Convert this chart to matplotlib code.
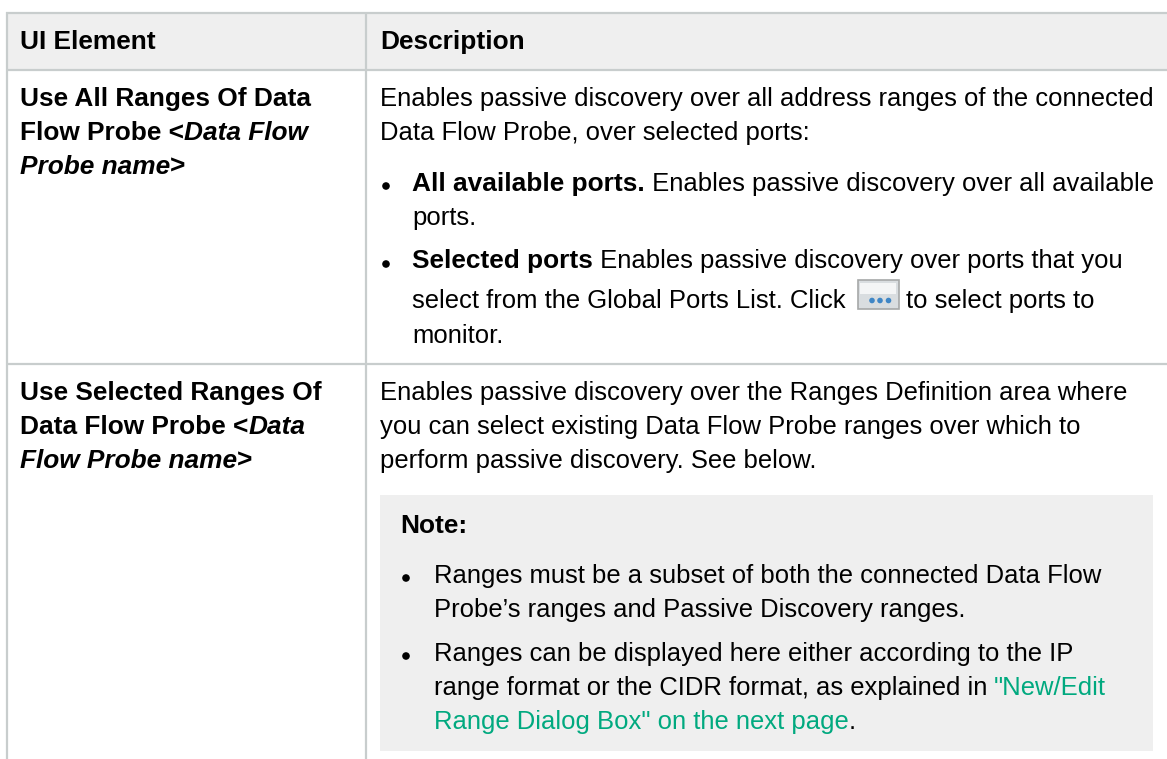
import matplotlib
matplotlib.use("Agg")
import matplotlib.pyplot as plt
from matplotlib.patches import Rectangle, Circle

W, H = 1167, 759
plt.rcParams['font.family'] = ['Liberation Sans', 'DejaVu Sans']

K = '#000000'
G = '#00a97f'
headers = ["UI Element", "Description"]
# run = (text, weight, style, colour)
left_cells = [
    (106, [("Use All Ranges Of Data", 'bold', 'normal', K)]),
    (140, [("Flow Probe <", 'bold', 'normal', K), ("Data Flow", 'bold', 'italic', K)]),
    (174, [("Probe name", 'bold', 'italic', K), (">", 'bold', 'normal', K)]),
    (400, [("Use Selected Ranges Of", 'bold', 'normal', K)]),
    (434, [("Data Flow Probe <", 'bold', 'normal', K), ("Data", 'bold', 'italic', K)]),
    (468, [("Flow Probe name", 'bold', 'italic', K), (">", 'bold', 'normal', K)]),
]
desc_lines = [
    (380, 106, [("Enables passive discovery over all address ranges of the connected", 'normal', 'normal', K)]),
    (380, 140, [("Data Flow Probe, over selected ports:", 'normal', 'normal', K)]),
    (412, 191, [("All available ports.", 'bold', 'normal', K), (" Enables passive discovery over all available", 'normal', 'normal', K)]),
    (412, 225, [("ports.", 'normal', 'normal', K)]),
    (412, 268, [("Selected ports", 'bold', 'normal', K), (" Enables passive discovery over ports that you", 'normal', 'normal', K)]),
    (412, 308, [("select from the Global Ports List. Click", 'normal', 'normal', K)]),
    (412, 343, [("monitor.", 'normal', 'normal', K)]),
    (380, 400, [("Enables passive discovery over the Ranges Definition area where", 'normal', 'normal', K)]),
    (380, 434, [("you can select existing Data Flow Probe ranges over which to", 'normal', 'normal', K)]),
    (380, 468, [("perform passive discovery. See below.", 'normal', 'normal', K)]),
    (400, 533, [("Note:", 'bold', 'normal', K)]),
    (433.5, 583, [("Ranges must be a subset of both the connected Data Flow", 'normal', 'normal', K)]),
    (433.5, 617, [("Probe\u2019s ranges and Passive Discovery ranges.", 'normal', 'normal', K)]),
    (433.5, 661, [("Ranges can be displayed here either according to the IP", 'normal', 'normal', K)]),
    (433.5, 695, [("range format or the CIDR format, as explained in ", 'normal', 'normal', K), ("\"New/Edit", 'normal', 'normal', G)]),
    (433.5, 729, [("Range Dialog Box\" on the next page", 'normal', 'normal', G), (".", 'normal', 'normal', K)]),
]
icon_label = "to select ports to"
bullets = [(386, 186), (386, 264), (406, 578), (406, 656)]

fig = plt.figure(figsize=(W / 100, H / 100), dpi=100)
ax = fig.add_axes([0, 0, 1, 1])
ax.set_xlim(0, W)
ax.set_ylim(H, 0)
ax.axis('off')

GRID = '#c8cdcd'
FILL = '#efefef'
ax.add_patch(Rectangle((6, 12), 1161, 58, fc=FILL, ec='none'))
ax.add_patch(Rectangle((379.5, 495), 773.5, 256, fc=FILL, ec='none'))
for y in (12.5, 70, 364):
    ax.plot([6, W], [y, y], color=GRID, lw=1.6, solid_capstyle='butt')
ax.plot([6.5, 6.5], [12, H], color=GRID, lw=1.6, solid_capstyle='butt')
ax.plot([366, 366], [12, H], color=GRID, lw=1.6, solid_capstyle='butt')

FS = 18.42
FS_BOLD = 18.95
renderer = fig.canvas.get_renderer()


def runs(x, y, parts):
    for text, weight, style, colour in parts:
        size = FS_BOLD if weight == 'bold' else FS
        t = ax.text(x, y, text, fontsize=size, va='baseline', ha='left',
                    fontweight=weight, fontstyle=style, color=colour)
        x = t.get_window_extent(renderer).x1
    return x


ax.text(20, 49, headers[0], fontsize=FS_BOLD, fontweight='bold', color=K)
ax.text(380, 49, headers[1], fontsize=FS_BOLD, fontweight='bold', color=K)
for y, parts in left_cells:
    runs(20, y, parts)
for x, y, parts in desc_lines:
    runs(x, y, parts)

ax.add_patch(Rectangle((857.5, 280), 41, 28.5, fc='#d9dde0', ec='#a6a8a8', lw=1.2))
ax.add_patch(Rectangle((860, 283), 36, 11, fc='#f4f5f6', ec='none'))
for cx in (872, 880, 888.5):
    ax.add_patch(Circle((cx, 300.5), 2.8, fc='#3f86c6', ec='none'))
ax.text(906.5, 308, icon_label, fontsize=FS, color=K)
for x, y in bullets:
    ax.add_patch(Circle((x, y), 3.8, fc=K, ec='none'))

fig.savefig('out.png', dpi=100, facecolor='white')
